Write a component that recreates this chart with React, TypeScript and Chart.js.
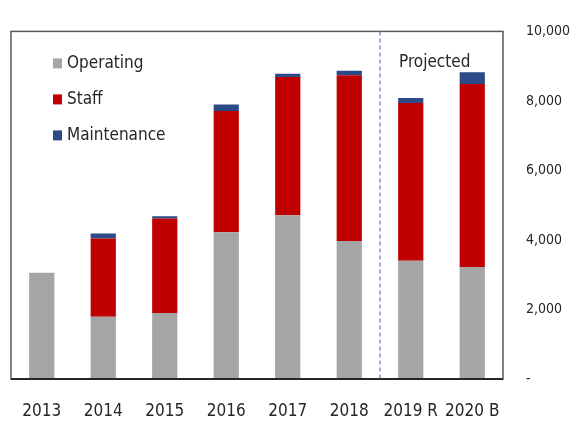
import React, { useEffect, useRef } from "react";
import { Chart, registerables } from "chart.js";

Chart.register(...registerables);

const categories = ["2013", "2014", "2015", "2016", "2017", "2018", "2019 R", "2020 B"];
const operating = [3060, 1790, 1900, 4220, 4710, 3970, 3400, 3220];
const staff = [0, 2250, 2720, 3490, 3980, 4770, 4540, 5270];
const maintenance = [0, 145, 60, 190, 95, 130, 145, 335];
const yMin = 0;
const yMax = 10000;
const yStep = 2000;
const projectedLabel = "Projected";
const projectedStartIndex = 6;

const FONT = "'DejaVu Sans Condensed', 'Liberation Sans Narrow', sans-serif";
const TEXT = "#262626";

const overlayPlugin = {
  id: "overlay",
  afterDatasetsDraw(chart: any) {
    const { ctx, chartArea, scales } = chart;
    const { left, right, top, bottom } = chartArea;
    ctx.save();
    ctx.strokeStyle = "#595959";
    ctx.lineWidth = 1.5;
    ctx.strokeRect(left, top, right - left, bottom - top);
    ctx.strokeStyle = "#262626";
    ctx.lineWidth = 2;
    ctx.beginPath();
    ctx.moveTo(left, bottom);
    ctx.lineTo(right, bottom);
    ctx.stroke();
    const x = scales.x;
    const sepX = (x.getPixelForValue(projectedStartIndex - 1) + x.getPixelForValue(projectedStartIndex)) / 2;
    ctx.strokeStyle = "#5B7DB8";
    ctx.lineWidth = 1.2;
    ctx.setLineDash([4, 3]);
    ctx.beginPath();
    ctx.moveTo(sepX, top);
    ctx.lineTo(sepX, bottom);
    ctx.stroke();
    ctx.setLineDash([]);
    ctx.fillStyle = TEXT;
    ctx.font = "17px " + FONT;
    ctx.textBaseline = "middle";
    ctx.textAlign = "left";
    ctx.fillText(projectedLabel, sepX + 19, top + 31);
    chart.data.datasets.forEach((ds: any, i: number) => {
      const cy = top + 32 + i * 36;
      ctx.fillStyle = ds.backgroundColor;
      ctx.fillRect(left + 42, cy - 5, 9, 10);
      ctx.fillStyle = TEXT;
      ctx.fillText(ds.label, left + 56, cy);
    });
    ctx.restore();
  },
};

export default function App() {
  const ref = useRef<HTMLCanvasElement>(null);
  useEffect(() => {
    if (!ref.current) return;
    const chart = new Chart(ref.current, {
      type: "bar",
      data: {
        labels: categories,
        datasets: [
          { label: "Operating", data: operating, backgroundColor: "#A5A5A5" },
          { label: "Staff", data: staff, backgroundColor: "#C00000" },
          { label: "Maintenance", data: maintenance, backgroundColor: "#2B4A86" },
        ],
      },
      options: {
        animation: false,
        responsive: false,
        maintainAspectRatio: false,
        layout: { padding: { left: 11, top: 31, right: 0, bottom: 0 } },
        datasets: { bar: { barPercentage: 0.41, categoryPercentage: 1 } },
        plugins: { legend: { display: false }, tooltip: { enabled: false } },
        scales: {
          x: {
            stacked: true,
            grid: { display: false },
            border: { display: false },
            ticks: { color: TEXT, font: { family: FONT, size: 17 }, padding: 14, maxRotation: 0, autoSkip: false },
            afterFit: (s: any) => { s.height = 42; },
          },
          y: {
            stacked: true,
            position: "right",
            min: yMin,
            max: yMax,
            grid: { display: false, drawTicks: false },
            border: { display: false },
            ticks: {
              stepSize: yStep,
              color: TEXT,
              font: { family: FONT, size: 14 },
              padding: 23,
              callback: (v: any) => (v === 0 ? "-" : Number(v).toLocaleString("en-US")),
            },
            afterFit: (s: any) => { s.width = 74; },
          },
        },
      },
      plugins: [overlayPlugin],
    });
    return () => chart.destroy();
  }, []);
  return (
    <div style={{ position: "fixed", left: 0, top: 0, width: 577, height: 421, background: "#fff" }}>
      <canvas ref={ref} width={577} height={421} style={{ width: 577, height: 421 }} />
    </div>
  );
}
